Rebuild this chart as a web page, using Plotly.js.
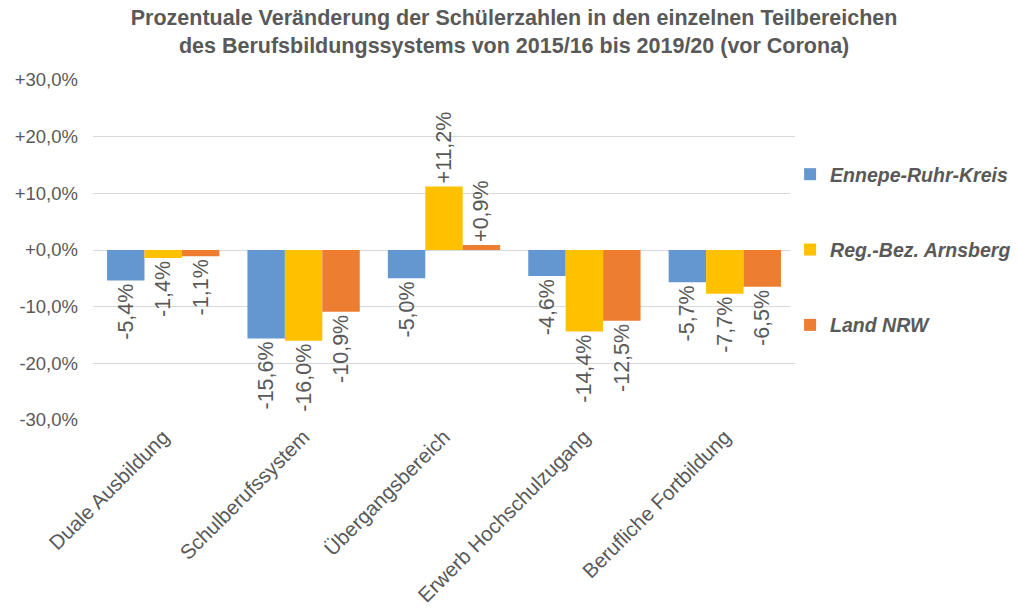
<!DOCTYPE html>
<html>
<head>
<meta charset="utf-8">
<script src="https://cdn.plot.ly/plotly-3.0.1.min.js"></script>
<style>html,body{margin:0;padding:0;background:#fff;}#chart{width:1018px;height:614px;}</style>
</head>
<body>
<div id="chart"></div>
<script>
const categories = ["Duale Ausbildung", "Schulberufssystem", "Übergangsbereich", "Erwerb Hochschulzugang", "Berufliche Fortbildung"];
const seriesNames = ["Ennepe-Ruhr-Kreis", "Reg.-Bez. Arnsberg", "Land NRW"];
const ennepe = [-5.4, -15.6, -5.0, -4.6, -5.7];
const arnsberg = [-1.4, -16.0, 11.2, -14.4, -7.7];
const nrw = [-1.1, -10.9, 0.9, -12.5, -6.5];
const yTicks = [-30, -20, -10, 0, 10, 20, 30];

const colors = ["#6497CF", "#FFC000", "#ED7D31"];
const textColor = "#595959";
const font = "Liberation Sans, Arial, sans-serif";

function fmt(v) {
  const s = Math.abs(v).toFixed(1).replace(".", ",");
  return (v < 0 ? "-" : "+") + s + "%";
}

const data = [ennepe, arnsberg, nrw].map((vals, i) => ({
  type: "bar",
  name: seriesNames[i],
  x: categories,
  y: vals,
  marker: {color: colors[i]},
  text: vals.map(fmt),
  texttemplate: "%{text}",
  textposition: "outside",
  textangle: -90,
  constraintext: "none",
  cliponaxis: false,
  textfont: {family: font, size: 21.5, color: textColor},
  legendgroup: "g" + i,
  hoverinfo: "none"
}));

const layout = {
  width: 1018,
  height: 614,
  paper_bgcolor: "#fff",
  plot_bgcolor: "#fff",
  font: {family: font, color: textColor},
  margin: {l: 93, r: 223, t: 80, b: 194, autoexpand: false},
  title: {
    text: "<b>Prozentuale Veränderung der Schülerzahlen in den einzelnen Teilbereichen<br>des Berufsbildungssystems von 2015/16 bis 2019/20 (vor Corona)</b>",
    font: {family: font, size: 21.5, color: textColor},
    x: 0.505, xref: "container", xanchor: "center",
    y: 0.96, yref: "container", yanchor: "top"
  },
  barmode: "group",
  bargap: 0.2,
  bargroupgap: 0,
  xaxis: {
    tickangle: -45,
    tickfont: {family: font, size: 20.5, color: textColor},
    showgrid: false,
    showline: false,
    ticks: "",
    fixedrange: true
  },
  yaxis: {
    range: [-30, 30],
    tickvals: yTicks,
    ticktext: yTicks.map(fmt),
    tickfont: {family: font, size: 18.5, color: textColor},
    gridcolor: "#D9D9D9",
    gridwidth: 1,
    zeroline: true,
    zerolinecolor: "#D9D9D9",
    zerolinewidth: 1,
    showline: false,
    ticks: "",
    ticklabelstandoff: 14,
    fixedrange: true
  },
  legend: {
    x: 0.993, xanchor: "left",
    y: 0.5, yanchor: "middle",
    traceorder: "grouped",
    tracegroupgap: 47,
    font: {family: font, size: 19.5, color: textColor, weight: "bold", style: "italic"},
    itemwidth: 30
  },
  showlegend: true
};

Plotly.newPlot("chart", data, layout, {displayModeBar: false, staticPlot: true});
</script>
</body>
</html>
